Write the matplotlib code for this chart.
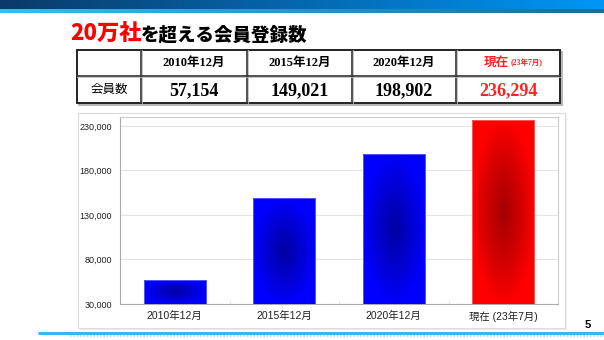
import matplotlib.pyplot as plt
import matplotlib.patches as mpatches
import numpy as np
from matplotlib.ticker import FuncFormatter, FixedLocator

# data
categories = ['2010年12月', '2015年12月', '2020年12月', '現在 (23年7月)']
members = [57154, 149021, 198902, 236294]
bar_colors = [(0, 0, 1), (0, 0, 1), (0, 0, 1), (1, 0, 0)]
yticks = [30000, 80000, 130000, 180000, 230000]

table_heads = ['2010年12月', '2015年12月', '2020年12月']
table_now = ('現在', '(23年7月)')
row_label = '会員数'
title_red = '20万社'
title_black = 'を超える会員登録数'
page_no = '5'

W, H = 604, 340
fig = plt.figure(figsize=(W / 100, H / 100), dpi=100)
fig.patch.set_facecolor('white')

def fx(x):
  return x / W

def fy(y):
  return 1 - y / H

SERIF = ['Liberation Serif', 'Noto Sans CJK JP']
SANS = ['Liberation Sans', 'Noto Sans CJK JP']
CJK = ['Noto Sans CJK JP', 'DejaVu Sans']

# background decoration (top band + bottom line)
bg = fig.add_axes([0, 0, 1, 1], zorder=-5)
bg.set_xlim(0, W)
bg.set_ylim(H, 0)
bg.axis('off')
grad = np.linspace(0, 1, 256)[None, :, None]
c0 = np.array([10, 58, 105]) / 255
c1 = np.array([0, 150, 245]) / 255
bg.imshow(c0 + (c1 - c0) * grad, extent=[0, W, 9.5, 0], aspect='auto')
s0 = np.array([50, 192, 240]) / 255
s1 = np.array([30, 110, 140]) / 255
bg.imshow(s0 + (s1 - s0) * grad, extent=[0, W, 13, 9.5], aspect='auto')
bg.plot([38, W], [332.5, 332.5], color='#3cb4f0', lw=2.2, solid_capstyle='butt')
bg.plot([70, W], [335.5, 335.5], color='#a8dcf5', lw=1.2, ls=(0, (1, 1)))

# panel behind the chart
bg.add_patch(mpatches.Rectangle((80, 115), 487, 215, facecolor='#eeeeee', edgecolor='none'))
bg.add_patch(mpatches.Rectangle((78, 113), 487, 215, facecolor='white', edgecolor='#dcdcdc', lw=0.8))

# title
fig.text(fx(70), fy(41), title_red, color='#ff0000', fontsize=16, fontweight='heavy',
         family=CJK, va='baseline')
fig.text(fx(141), fy(41), title_black, color='black', fontsize=13.3, fontweight='heavy',
         family=CJK, va='baseline')

# table
col_edges = [77, 141, 247, 352, 456, 560]
row_edges = [50, 76, 103]
bg.add_patch(mpatches.Rectangle((col_edges[0] + 1.5, row_edges[0] + 1.5), col_edges[-1] - col_edges[0],
                                row_edges[-1] - row_edges[0], facecolor='none', edgecolor='#aaaaaa', lw=1.2))
bg.add_patch(mpatches.Rectangle((col_edges[0], row_edges[0]), col_edges[-1] - col_edges[0],
                                row_edges[-1] - row_edges[0], facecolor='white', edgecolor='#222222', lw=1.4))
for x in col_edges[1:-1]:
  bg.plot([x, x], [row_edges[0], row_edges[-1]], color='#333333', lw=1.2)
  bg.plot([x + 1.2, x + 1.2], [row_edges[0], row_edges[-1]], color='#bbbbbb', lw=0.6)
bg.plot([col_edges[0], col_edges[-1]], [row_edges[1], row_edges[1]], color='#333333', lw=1.2)
bg.plot([col_edges[0], col_edges[-1]], [row_edges[1] + 1.2, row_edges[1] + 1.2], color='#bbbbbb', lw=0.6)

cy0 = (row_edges[0] + row_edges[1]) / 2
cy1 = (row_edges[1] + row_edges[2]) / 2
for i, h in enumerate(table_heads):
  cx = (col_edges[i + 1] + col_edges[i + 2]) / 2
  bg.text(cx, cy0, h, ha='center', va='center', fontsize=9, fontweight='bold', family=SERIF)
cx = (col_edges[4] + col_edges[5]) / 2
bg.text(cx + 1, cy0, table_now[0], ha='right', va='center', fontsize=9, fontweight='bold',
        family=SERIF, color='#ff2222')
bg.text(cx + 3, cy0 + 0.5, table_now[1], ha='left', va='center', fontsize=5.5, fontweight='bold',
        family=SERIF, color='#ff2222')
bg.text((col_edges[0] + col_edges[1]) / 2, cy1, row_label, ha='center', va='center', fontsize=9,
        family=CJK)
for i, v in enumerate(members):
  cx = (col_edges[i + 1] + col_edges[i + 2]) / 2
  bg.text(cx, cy1 + 1, f'{v:,}', ha='center', va='center', fontsize=13, fontweight='bold',
          family=SERIF, color='#ff2222' if i == 3 else 'black')

bg.text(588, 325, page_no, ha='center', va='center', fontsize=8, fontweight='bold', family=SANS)

# bar chart
ax = fig.add_axes([fx(120), fy(304), fx(558) - fx(120), fy(117) - fy(304)])
x = np.arange(len(categories))
bars = ax.bar(x, np.array(members) - 30000, bottom=30000, width=0.57, color='none',
              edgecolor='none', zorder=3)

u = np.linspace(-1, 1, 80)[None, :]
v = np.linspace(-1, 1, 160)[:, None]
d = np.sqrt(u ** 2 + v ** 2)
t = np.clip(1 - d, 0, 1) ** 0.9
for b, c in zip(bars, bar_colors):
  shade = 1 - 0.36 * t
  img = np.array(c)[None, None, :] * shade[:, :, None]
  bx, by, bw, bh = b.get_x(), b.get_y(), b.get_width(), b.get_height()
  im = ax.imshow(img, extent=[bx, bx + bw, by, by + bh], aspect='auto', zorder=3,
                 interpolation='bilinear')
  im.set_clip_path(b)
  edge = mpatches.Rectangle((bx, by), bw, bh, facecolor='none',
                            edgecolor=tuple(0.4 + 0.6 * np.array(c)), lw=0.6, zorder=4)
  ax.add_patch(edge)

ax.set_xlim(-0.5, len(categories) - 0.5)
ax.set_ylim(30000, 240000)
ax.set_yticks(yticks)
ax.yaxis.set_major_formatter(FuncFormatter(lambda val, p: f'{int(val):,}'))
ax.set_xticks(x)
ax.set_xticklabels(categories, family=SANS, fontsize=7.5, color='#222222')
ax.xaxis.set_minor_locator(FixedLocator(x[:-1] + 0.5))
ax.tick_params(axis='x', which='minor', length=2, direction='in', color='#dddddd')
ax.tick_params(axis='both', which='major', length=0)
ax.tick_params(axis='y', labelsize=6.5, pad=6, labelcolor='#222222')
ax.tick_params(axis='x', which='major', pad=5)
for lbl in ax.get_yticklabels():
  lbl.set_family(SANS)
ax.grid(axis='y', color='#e4e4e4', lw=0.8, zorder=0)
ax.set_axisbelow(True)
for s in ['left', 'bottom']:
  ax.spines[s].set_color('#aaaaaa')
  ax.spines[s].set_linewidth(0.8)
for s in ['top', 'right']:
  ax.spines[s].set_color('#cccccc')
  ax.spines[s].set_linewidth(0.8)

fig.savefig('out.png', dpi=100)
